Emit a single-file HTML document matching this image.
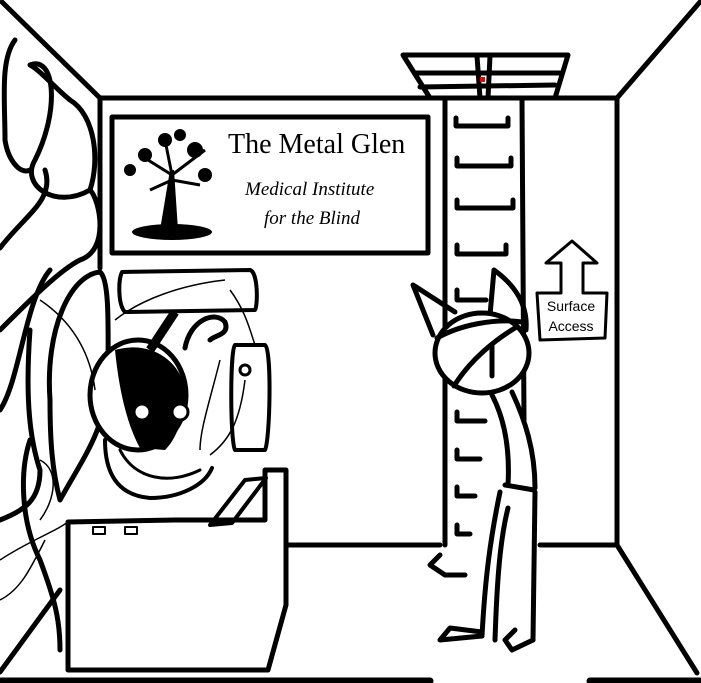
<!DOCTYPE html>
<html><head><meta charset="utf-8"><style>
html,body{margin:0;padding:0;background:#fff;}
svg{display:block;}
</style></head><body>
<svg width="701" height="683" viewBox="0 0 701 683" xmlns="http://www.w3.org/2000/svg">
<rect width="701" height="683" fill="#fff"/>
<g fill="none" stroke="#000" stroke-width="5" stroke-linecap="round" stroke-linejoin="round">
<!-- room -->
<line x1="2" y1="2" x2="100" y2="98"/>
<line x1="100" y1="98" x2="617" y2="98"/>
<line x1="100" y1="98" x2="100" y2="268"/>
<line x1="700" y1="2" x2="617" y2="98"/>
<line x1="617" y1="98" x2="617" y2="545"/>
<line x1="286" y1="545" x2="440" y2="545"/>
<line x1="540" y1="545" x2="617" y2="545"/>
<line x1="617" y1="545" x2="697" y2="673"/>
<line x1="0" y1="672" x2="60" y2="590"/>
<line x1="0" y1="681" x2="430" y2="681" stroke-width="7"/>
<line x1="590" y1="681" x2="701" y2="681" stroke-width="7"/>
<!-- sign -->
<rect x="112" y="117" width="316" height="136"/>
<!-- hatch -->
<path d="M403 55 L568 55 L555 98 L430 98 Z"/>
<line x1="415" y1="73" x2="560" y2="73"/>
<line x1="420" y1="87" x2="555" y2="85"/>
<line x1="477" y1="56" x2="480" y2="98"/>
<line x1="490" y1="56" x2="488" y2="98"/>
<!-- ladder -->
<line x1="445" y1="100" x2="445" y2="545"/>
<line x1="522" y1="100" x2="524" y2="420"/>
<path d="M456 118 V126 H508 V118"/>
<path d="M457 158 V166 H511 V158"/>
<path d="M457 200 V208 H513 V200"/>
<path d="M457 245 V254 H506 V245"/>
<path d="M457 290 V300 H486"/>
<path d="M457 412 V421 H485"/>
<path d="M457 450 V459 H480"/>
<path d="M457 487 V496 H475"/>
<path d="M457 525 V534 H470"/>
<!-- arrow sign -->
<path d="M572 241 L597 263 L583 263 L583 293 L607 293 L605 338 L540 340 L537 293 L561 293 L561 263 L546 263 Z" stroke-width="3"/>
<!-- person -->
<path d="M413 285 L455 312 M413 285 L433 335" />
<path d="M494 270 C515 285 528 305 526 330 M494 270 L490 315"/>
<ellipse cx="482" cy="353" rx="47" ry="40" fill="#fff"/>
<path d="M437 338 C460 325 495 318 522 322"/>
<path d="M454 386 C470 360 495 340 515 328"/>
<line x1="492" y1="345" x2="492" y2="376"/>
<path d="M492 395 C505 420 510 450 508 485"/>
<path d="M512 392 C525 420 535 450 535 488"/>
<path d="M505 485 L534 490"/>
<path d="M500 492 C490 540 485 580 482 636"/>
<path d="M535 492 L533 640"/>
<path d="M508 508 C500 540 497 580 495 640"/>
<path d="M482 636 L440 640 L450 628 L482 632"/>
<path d="M533 640 L512 650 L505 640 L515 630"/>
<path d="M440 555 L430 565 L445 575 L465 575"/>
<!-- robot left tubes -->
<path d="M15 40 C0 60 5 100 5 140 C8 160 20 175 30 170"/>
<path d="M30 65 C55 55 60 110 35 160 C20 185 55 210 90 190 C100 160 95 115 70 100 C55 88 40 70 30 65 Z"/>
<path d="M0 248 C25 215 55 200 45 170"/>
<path d="M0 330 C30 300 60 270 80 260 C110 250 100 200 90 190"/>
<path d="M0 410 C20 380 25 300 50 270"/>
<path d="M0 520 C25 510 40 500 40 470 C30 440 25 400 30 330"/>
<!-- big capsule arm -->
<path d="M50 400 C45 330 70 275 100 272 C110 280 108 330 108 380 C105 430 85 455 60 500 C52 470 50 440 50 400 Z" fill="#fff"/>
<path d="M30 440 C20 470 20 520 40 560 C55 600 60 620 60 650"/>
<!-- machine -->
<path d="M122 272 L250 270 C258 272 258 305 255 310 L125 312 C118 305 118 280 122 272 Z" stroke-width="4"/>
<path d="M185 348 C190 320 215 310 225 322 C230 335 215 335 210 340"/>
<path d="M235 345 L265 345 C272 350 270 440 265 450 L235 450 C230 440 230 350 235 345 Z" stroke-width="4"/>
<circle cx="245" cy="370" r="5" stroke-width="3"/>
<!-- robot body -->
<path d="M105 440 C105 470 115 495 150 498 C180 498 205 485 212 468" stroke-width="4"/>
<path d="M120 450 C135 480 170 485 200 470" stroke-width="3"/>
<!-- desk -->
<path d="M68 522 L175 520 L265 520 L265 470 L286 470 L286 605 L268 670 L68 670 Z" fill="#fff"/>
<path d="M210 525 L245 480 L266 478 L232 523 Z" stroke-width="4"/>
<rect x="93" y="527" width="12" height="7" stroke-width="2"/>
<rect x="125" y="527" width="12" height="7" stroke-width="2"/>
</g>
<!-- robot head -->
<ellipse cx="138" cy="395" rx="48" ry="55" fill="#fff" stroke="#000" stroke-width="5"/>
<path d="M115 350 C150 340 180 360 185 390 C185 420 175 440 165 450 L140 448 C130 430 120 400 115 350 Z" fill="#000"/>
<circle cx="142" cy="412" r="8" fill="#fff" stroke="#000" stroke-width="3"/>
<circle cx="180" cy="412" r="8" fill="#fff" stroke="#000" stroke-width="3"/>
<line x1="150" y1="350" x2="175" y2="312" stroke="#000" stroke-width="9"/>
<rect x="480" y="77" width="5" height="5" fill="#e00"/>
<!-- thin wires -->
<g fill="none" stroke="#000" stroke-width="1.5">
<path d="M115 320 C140 300 180 285 225 280"/>
<path d="M230 290 C245 310 250 330 255 345"/>
<path d="M40 300 C70 320 90 350 95 390"/>
<path d="M0 560 C30 540 60 530 70 520"/>
<path d="M0 600 C20 590 30 570 45 540"/>
<path d="M40 460 C60 470 55 500 40 520"/>
<path d="M220 360 C210 400 200 430 200 450"/>
<path d="M245 380 C240 420 230 440 210 455"/>
</g>
<!-- text -->
<text x="228" y="153" font-family="'Liberation Serif', serif" font-size="28" fill="#000">The Metal Glen</text>
<text x="245" y="195" font-family="'Liberation Serif', serif" font-style="italic" font-size="19" fill="#000">Medical Institute</text>
<text x="264" y="224" font-family="'Liberation Serif', serif" font-style="italic" font-size="19" fill="#000">for the Blind</text>
<text x="571" y="311" text-anchor="middle" font-family="'Liberation Sans', sans-serif" font-size="14" fill="#000">Surface</text>
<text x="571" y="331" text-anchor="middle" font-family="'Liberation Sans', sans-serif" font-size="14" fill="#000">Access</text>
<!-- tree -->
<g fill="#000">
<path d="M160 230 L170 170 L174 170 L178 230 Z"/>
<path d="M172 175 L140 155 M172 175 L205 150 M172 175 L165 140 M172 180 L150 190 M172 180 L200 185" stroke="#000" stroke-width="3"/>
<ellipse cx="172" cy="232" rx="40" ry="8"/>
<circle cx="145" cy="155" r="7"/><circle cx="165" cy="140" r="7"/><circle cx="195" cy="150" r="8"/><circle cx="130" cy="170" r="6"/><circle cx="205" cy="175" r="7"/><circle cx="180" cy="135" r="6"/>
</g>
</svg>
</body></html>
